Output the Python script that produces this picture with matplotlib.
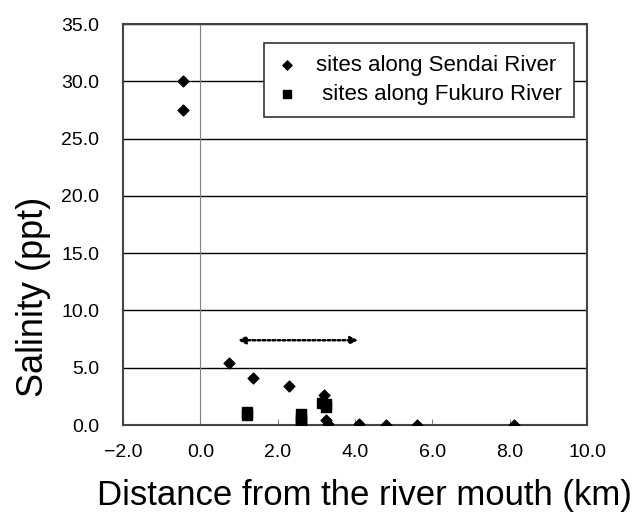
import matplotlib.pyplot as plt

plt.rcParams['font.family'] = ['Liberation Sans', 'DejaVu Sans']

# Sendai River sites
sendai_x = [-0.45, -0.45, 0.75, 1.35, 2.3, 3.2, 3.25, 3.3, 4.1, 4.8, 5.6, 8.1]
sendai_y = [30.0, 27.5, 5.4, 4.1, 3.4, 2.6, 0.45, 0.05, 0.1, 0.0, 0.0, 0.0]

# Fukuro River sites
fukuro_x = [1.2, 1.2, 2.6, 2.6, 2.6, 2.6, 3.15, 3.25, 3.25]
fukuro_y = [1.1, 0.9, 0.95, 0.65, 0.35, 0.05, 1.9, 1.6, 1.8]

y_ticks = [0, 5, 10, 15, 20, 25, 30, 35]
x_ticks = [-2, 0, 2, 4, 6, 8, 10]

fig = plt.figure(figsize=(6.32, 5.13), dpi=100)
ax = fig.add_axes([0.1946, 0.1715, 0.7342, 0.7817])

for yv in y_ticks:
    ax.axhline(yv, color='black', lw=1.0, zorder=1)
ax.axvline(0, color='gray', lw=0.8, zorder=1)

ax.scatter(sendai_x, sendai_y, marker='D', s=30, color='black', zorder=3,
           label='sites along Sendai River')
ax.scatter(fukuro_x, fukuro_y, marker='s', s=45, color='black', zorder=3,
           label=' sites along Fukuro River')

# dotted range arrow
ax.annotate('', xy=(0.9, 7.4), xytext=(4.15, 7.4),
            arrowprops=dict(arrowstyle='<|-|>', linestyle=(0, (1, 1)), color='black',
                            lw=1.8, mutation_scale=11))

ax.set_xlim(-2, 10)
ax.set_ylim(0, 35)
ax.set_xticks(x_ticks)
ax.set_xticklabels([f'{v:.1f}'.replace('-', '\u2212') for v in x_ticks], fontsize=14)
ax.set_yticks(y_ticks)
ax.set_yticklabels([f'{v:.1f}' for v in y_ticks], fontsize=14)
ax.tick_params(axis='x', direction='in', length=4, color='gray', pad=14)
ax.tick_params(axis='y', length=0, pad=17)

for s in ax.spines.values():
    s.set_color('#444444')
    s.set_linewidth(1.5)

ax.set_xlabel('Distance from the river mouth (km)', fontsize=25)
ax.xaxis.set_label_coords(0.52, -0.135)
ax.set_ylabel('Salinity (ppt)', fontsize=26)
ax.yaxis.set_label_coords(-0.155, 0.32)

leg = ax.legend(loc='upper right', bbox_to_anchor=(0.972, 0.953), fontsize=16,
                fancybox=False, framealpha=1, edgecolor='#333333',
                handletextpad=0.8, borderpad=0.55, labelspacing=0.35,
                handlelength=1.0, markerscale=0.85, borderaxespad=0)
leg.get_frame().set_linewidth(1.2)

fig.savefig('out.png', dpi=100)
